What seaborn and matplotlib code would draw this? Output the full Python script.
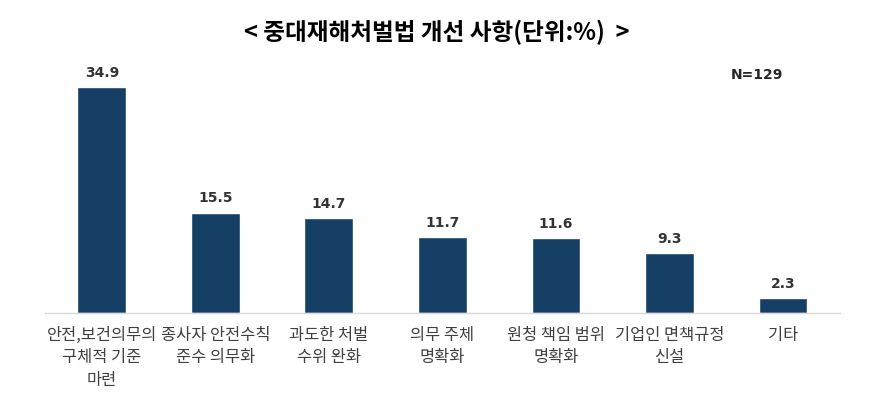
import matplotlib
matplotlib.use("Agg")
import matplotlib.pyplot as plt
import seaborn as sns
import pandas as pd

categories = [
    "안전,보건의무의\n구체적 기준\n마련",
    "종사자 안전수칙\n준수 의무화",
    "과도한 처벌\n수위 완화",
    "의무 주체\n명확화",
    "원청 책임 범위\n명확화",
    "기업인 면책규정\n신설",
    "기타",
]
values = [34.9, 15.5, 14.7, 11.7, 11.6, 9.3, 2.3]
title = "< 중대재해처벌법 개선 사항(단위:%)  >"
n_label = "N=129"

sns.set_theme(style="white")
plt.rcParams["font.family"] = ["Noto Sans CJK KR", "DejaVu Sans"]

df = pd.DataFrame({"category": categories, "value": values})

fig = plt.figure(figsize=(8.86, 3.95), dpi=100)
ax = fig.add_axes([0.0508, 0.2076, 0.897, 0.653])

sns.barplot(data=df, x="category", y="value", color="#163f66", width=0.43,
            saturation=1, ax=ax)

for i, v in enumerate(values):
    ax.text(i, v + 1.1, f"{v}", ha="center", va="bottom", fontsize=10,
            fontweight="bold", color="#333333", family="DejaVu Sans")

ax.set_xlim(-0.5, len(categories) - 0.5)
ax.set_ylim(0, 39.8)
ax.set_xlabel("")
ax.set_ylabel("")
ax.set_yticks([])
for s in ["top", "right", "left"]:
    ax.spines[s].set_visible(False)
ax.spines["bottom"].set_color("#d9d9d9")
ax.spines["bottom"].set_linewidth(1)
ax.tick_params(axis="x", length=0, pad=10)
for lbl in ax.get_xticklabels():
    lbl.set_fontsize(11.8)
    lbl.set_color("#404040")
    lbl.set_linespacing(1.42)
    lbl.set_va("top")

fig.text(0.493, 0.918, title, ha="center", va="center", fontsize=17,
         fontweight="bold", color="black")
fig.text(0.854, 0.81, n_label, ha="center", va="center", fontsize=10,
         fontweight="bold", color="#262626", family="DejaVu Sans")

fig.savefig("out.png", dpi=100)
